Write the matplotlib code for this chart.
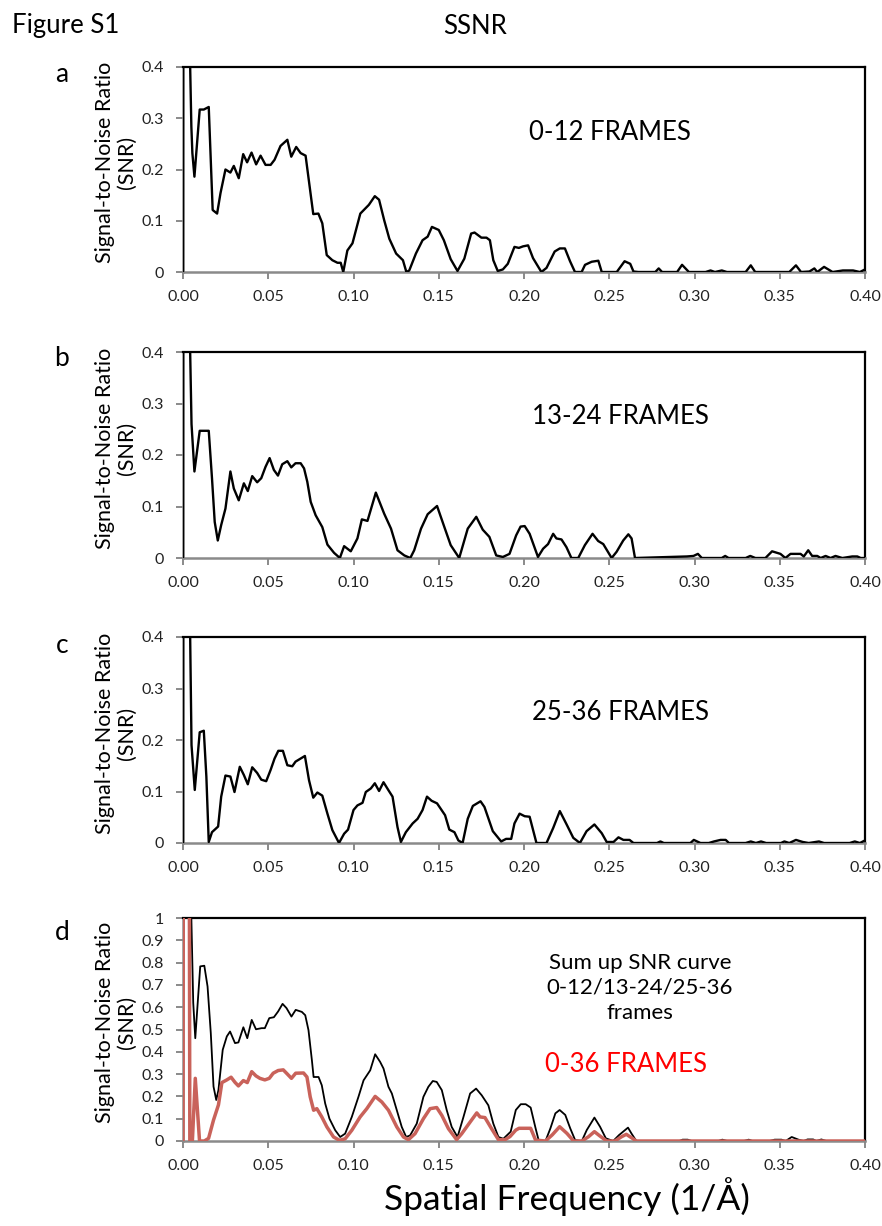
import matplotlib
matplotlib.use("Agg")
import matplotlib.pyplot as plt
import numpy as np

plt.rcParams['font.family'] = ['Lato', 'DejaVu Sans']

# ---------------- data ----------------
freq_a = [0.0000, 0.0004, 0.0036, 0.0042, 0.0049, 0.0055, 0.0067, 0.0098, 0.0122, 0.0151, 0.0174, 0.0200,
          0.0220, 0.0249, 0.0278, 0.0298, 0.0327, 0.0353, 0.0376, 0.0402, 0.0429, 0.0455, 0.0484, 0.0514,
          0.0537, 0.0572, 0.0612, 0.0635, 0.0664, 0.0690, 0.0719, 0.0764, 0.0794, 0.0817, 0.0843, 0.0876,
          0.0906, 0.0925, 0.0940, 0.0964, 0.0994, 0.1040, 0.1090, 0.1125, 0.1150, 0.1180, 0.1210, 0.1250,
          0.1290, 0.1310, 0.1327, 0.1366, 0.1405, 0.1435, 0.1460, 0.1500, 0.1530, 0.1570, 0.1610, 0.1650,
          0.1690, 0.1710, 0.1750, 0.1780, 0.1800, 0.1820, 0.1846, 0.1876, 0.1905, 0.1944, 0.1970, 0.1994,
          0.2024, 0.2053, 0.2102, 0.2132, 0.2180, 0.2210, 0.2240, 0.2270, 0.2299, 0.2338, 0.2358, 0.2397,
          0.2436, 0.2456, 0.2544, 0.2590, 0.2623, 0.2642, 0.2670, 0.2770, 0.2790, 0.2810, 0.2898, 0.2927,
          0.2967, 0.3065, 0.3094, 0.3120, 0.3160, 0.3190, 0.3300, 0.3330, 0.3356, 0.3556, 0.3595, 0.3625,
          0.3674, 0.3703, 0.3720, 0.3760, 0.3810, 0.3870, 0.3930, 0.3970, 0.4000]
snr_a = [0.0, 2.5, 2.5, 0.40, 0.284, 0.232, 0.186, 0.317, 0.317, 0.322, 0.121, 0.114,
         0.154, 0.200, 0.194, 0.207, 0.183, 0.230, 0.214, 0.233, 0.210, 0.227, 0.209, 0.209,
         0.219, 0.246, 0.258, 0.225, 0.244, 0.232, 0.227, 0.113, 0.114, 0.095, 0.033, 0.023,
         0.018, 0.018, 0.000, 0.042, 0.056, 0.114, 0.131, 0.148, 0.141, 0.101, 0.065, 0.036,
         0.023, 0.000, 0.003, 0.036, 0.062, 0.069, 0.088, 0.082, 0.062, 0.025, 0.002, 0.026,
         0.075, 0.077, 0.067, 0.067, 0.062, 0.023, 0.002, 0.005, 0.016, 0.049, 0.047, 0.050,
         0.052, 0.027, 0.000, 0.008, 0.040, 0.046, 0.046, 0.021, 0.000, 0.000, 0.014, 0.020,
         0.022, 0.000, 0.000, 0.021, 0.016, 0.001, 0.000, 0.000, 0.007, 0.000, 0.000, 0.014,
         0.000, 0.000, 0.003, 0.000, 0.003, 0.000, 0.000, 0.013, 0.000, 0.000, 0.013, 0.000,
         0.001, 0.007, 0.000, 0.010, 0.000, 0.003, 0.003, 0.000, 0.005]

freq_b = [0.0000, 0.0004, 0.0036, 0.0042, 0.0050, 0.0067, 0.0098, 0.0151, 0.0170, 0.0186, 0.0204, 0.0224,
          0.0249, 0.0278, 0.0298, 0.0327, 0.0357, 0.0380, 0.0406, 0.0435, 0.0459, 0.0484, 0.0508, 0.0533,
          0.0557, 0.0582, 0.0612, 0.0635, 0.0660, 0.0690, 0.0710, 0.0729, 0.0749, 0.0778, 0.0817, 0.0847,
          0.0886, 0.0920, 0.0945, 0.0984, 0.1023, 0.1049, 0.1082, 0.1131, 0.1180, 0.1220, 0.1258, 0.1298,
          0.1333, 0.1356, 0.1396, 0.1435, 0.1490, 0.1533, 0.1570, 0.1620, 0.1670, 0.1720, 0.1758, 0.1797,
          0.1837, 0.1876, 0.1915, 0.1954, 0.1980, 0.2004, 0.2033, 0.2082, 0.2112, 0.2141, 0.2171, 0.2190,
          0.2220, 0.2249, 0.2278, 0.2318, 0.2357, 0.2402, 0.2435, 0.2465, 0.2514, 0.2543, 0.2582, 0.2612,
          0.2631, 0.2651, 0.2955, 0.2994, 0.3020, 0.3043, 0.3160, 0.3180, 0.3200, 0.3300, 0.3327, 0.3357,
          0.3416, 0.3455, 0.3504, 0.3533, 0.3563, 0.3622, 0.3641, 0.3667, 0.3690, 0.3720, 0.3740, 0.3769,
          0.3798, 0.3827, 0.3867, 0.3925, 0.3955, 0.3975, 0.4000]
snr_b = [0.0, 2.5, 2.5, 0.40, 0.26, 0.168, 0.247, 0.247, 0.155, 0.070, 0.034, 0.064,
         0.096, 0.168, 0.135, 0.112, 0.145, 0.130, 0.159, 0.147, 0.155, 0.177, 0.194, 0.171,
         0.160, 0.182, 0.188, 0.176, 0.184, 0.184, 0.174, 0.148, 0.109, 0.083, 0.060, 0.026,
         0.010, 0.000, 0.023, 0.013, 0.038, 0.075, 0.072, 0.127, 0.086, 0.057, 0.015, 0.005,
         0.000, 0.015, 0.057, 0.085, 0.101, 0.060, 0.025, 0.000, 0.057, 0.080, 0.055, 0.041,
         0.005, 0.002, 0.008, 0.044, 0.061, 0.062, 0.047, 0.002, 0.018, 0.027, 0.047, 0.038,
         0.036, 0.021, 0.000, 0.000, 0.025, 0.047, 0.033, 0.027, 0.000, 0.012, 0.034, 0.046,
         0.038, 0.000, 0.003, 0.004, 0.008, 0.000, 0.000, 0.004, 0.000, 0.000, 0.004, 0.000,
         0.000, 0.013, 0.008, 0.000, 0.008, 0.008, 0.003, 0.015, 0.004, 0.004, 0.000, 0.004,
         0.000, 0.004, 0.000, 0.003, 0.003, 0.000, 0.000]

freq_c = [0.0000, 0.0004, 0.0036, 0.0042, 0.0050, 0.0069, 0.0098, 0.0122, 0.0137, 0.0151, 0.0170, 0.0206,
          0.0224, 0.0249, 0.0278, 0.0302, 0.0333, 0.0357, 0.0380, 0.0406, 0.0435, 0.0459, 0.0488, 0.0514,
          0.0537, 0.0559, 0.0586, 0.0612, 0.0641, 0.0660, 0.0690, 0.0715, 0.0739, 0.0764, 0.0788, 0.0817,
          0.0847, 0.0876, 0.0915, 0.0945, 0.0968, 0.1000, 0.1023, 0.1053, 0.1072, 0.1102, 0.1125, 0.1150,
          0.1176, 0.1204, 0.1229, 0.1258, 0.1278, 0.1307, 0.1347, 0.1376, 0.1405, 0.1431, 0.1458, 0.1490,
          0.1537, 0.1562, 0.1592, 0.1615, 0.1640, 0.1670, 0.1700, 0.1745, 0.1768, 0.1817, 0.1866, 0.1895,
          0.1925, 0.1944, 0.1974, 0.2004, 0.2033, 0.2073, 0.2132, 0.2171, 0.2210, 0.2250, 0.2289, 0.2328,
          0.2367, 0.2413, 0.2456, 0.2485, 0.2525, 0.2554, 0.2583, 0.2619, 0.2642, 0.2780, 0.2800, 0.2820,
          0.2976, 0.2996, 0.3035, 0.3084, 0.3114, 0.3153, 0.3183, 0.3202, 0.3300, 0.3330, 0.3360, 0.3390,
          0.3420, 0.3507, 0.3527, 0.3556, 0.3595, 0.3635, 0.3670, 0.3730, 0.3760, 0.3910, 0.3940, 0.3970,
          0.4000]
snr_c = [0.0, 2.5, 2.5, 0.40, 0.19, 0.103, 0.215, 0.218, 0.129, 0.002, 0.021, 0.032,
         0.090, 0.131, 0.129, 0.099, 0.148, 0.132, 0.114, 0.147, 0.136, 0.123, 0.120, 0.142,
         0.164, 0.179, 0.179, 0.151, 0.149, 0.158, 0.164, 0.169, 0.122, 0.088, 0.098, 0.092,
         0.057, 0.025, 0.000, 0.018, 0.026, 0.064, 0.073, 0.078, 0.099, 0.106, 0.116, 0.101,
         0.118, 0.103, 0.090, 0.031, 0.002, 0.021, 0.038, 0.047, 0.064, 0.090, 0.082, 0.077,
         0.054, 0.026, 0.021, 0.005, 0.000, 0.047, 0.072, 0.081, 0.070, 0.023, 0.003, 0.008,
         0.008, 0.038, 0.057, 0.052, 0.051, 0.000, 0.000, 0.029, 0.062, 0.036, 0.010, 0.000,
         0.023, 0.036, 0.019, 0.002, 0.002, 0.011, 0.006, 0.006, 0.000, 0.000, 0.003, 0.000,
         0.000, 0.006, 0.000, 0.000, 0.003, 0.006, 0.006, 0.000, 0.000, 0.003, 0.000, 0.003,
         0.000, 0.000, 0.003, 0.000, 0.006, 0.002, 0.000, 0.003, 0.000, 0.000, 0.003, 0.000,
         0.005]

freq_d_sum = [0.0000, 0.0004, 0.0045, 0.0049, 0.0060, 0.0072, 0.0101, 0.0125, 0.0144, 0.0163, 0.0179, 0.0195,
              0.0208, 0.0233, 0.0257, 0.0276, 0.0305, 0.0325, 0.0354, 0.0377, 0.0403, 0.0428, 0.0461, 0.0480,
              0.0506, 0.0533, 0.0558, 0.0584, 0.0607, 0.0636, 0.0661, 0.0697, 0.0717, 0.0736, 0.0756, 0.0766,
              0.0795, 0.0814, 0.0834, 0.0859, 0.0893, 0.0922, 0.0951, 0.0990, 0.1029, 0.1059, 0.1098, 0.1127,
              0.1156, 0.1176, 0.1205, 0.1225, 0.1254, 0.1283, 0.1309, 0.1332, 0.1371, 0.1410, 0.1439, 0.1465,
              0.1488, 0.1518, 0.1547, 0.1576, 0.1610, 0.1645, 0.1684, 0.1719, 0.1752, 0.1791, 0.1820, 0.1850,
              0.1879, 0.1922, 0.1952, 0.1981, 0.2010, 0.2039, 0.2068, 0.2087, 0.2126, 0.2155, 0.2184, 0.2209,
              0.2242, 0.2271, 0.2300, 0.2339, 0.2368, 0.2413, 0.2446, 0.2480, 0.2523, 0.2558, 0.2610, 0.2630,
              0.2659, 0.2911, 0.2930, 0.2960, 0.2984, 0.3140, 0.3163, 0.3192, 0.3290, 0.3318, 0.3340, 0.3440,
              0.3470, 0.3510, 0.3535, 0.3570, 0.3610, 0.3640, 0.3663, 0.3696, 0.3715, 0.3744, 0.3773, 0.4000]
snr_d_sum = [0.0, 3.0, 3.0, 1.0, 0.62, 0.461, 0.783, 0.786, 0.693, 0.484, 0.244, 0.184,
             0.229, 0.409, 0.469, 0.491, 0.439, 0.442, 0.510, 0.461, 0.543, 0.501, 0.506, 0.506,
             0.551, 0.555, 0.581, 0.615, 0.596, 0.558, 0.588, 0.579, 0.564, 0.497, 0.362, 0.287,
             0.287, 0.250, 0.168, 0.100, 0.048, 0.018, 0.033, 0.108, 0.198, 0.272, 0.317, 0.389,
             0.355, 0.325, 0.243, 0.213, 0.138, 0.063, 0.018, 0.025, 0.078, 0.198, 0.243, 0.269,
             0.265, 0.228, 0.138, 0.063, 0.018, 0.108, 0.213, 0.235, 0.205, 0.160, 0.078, 0.018,
             0.010, 0.042, 0.139, 0.165, 0.165, 0.150, 0.057, 0.000, 0.000, 0.057, 0.124, 0.139,
             0.117, 0.057, 0.004, 0.000, 0.049, 0.105, 0.064, 0.012, 0.000, 0.027, 0.060, 0.034,
             0.000, 0.000, 0.006, 0.006, 0.000, 0.000, 0.006, 0.000, 0.000, 0.006, 0.000, 0.000,
             0.006, 0.006, 0.000, 0.018, 0.006, 0.000, 0.007, 0.007, 0.000, 0.007, 0.000, 0.000]

freq_d_all = [0.0000, 0.0004, 0.0033, 0.0040, 0.0055, 0.0072, 0.0097, 0.0125, 0.0150, 0.0179, 0.0208, 0.0228,
              0.0257, 0.0282, 0.0305, 0.0325, 0.0354, 0.0377, 0.0403, 0.0428, 0.0451, 0.0480, 0.0506, 0.0529,
              0.0558, 0.0588, 0.0611, 0.0636, 0.0661, 0.0707, 0.0727, 0.0746, 0.0766, 0.0785, 0.0814, 0.0844,
              0.0883, 0.0918, 0.0951, 0.0990, 0.1039, 0.1078, 0.1127, 0.1166, 0.1205, 0.1254, 0.1293, 0.1322,
              0.1361, 0.1410, 0.1449, 0.1488, 0.1518, 0.1557, 0.1605, 0.1635, 0.1684, 0.1723, 0.1742, 0.1771,
              0.1810, 0.1850, 0.1889, 0.1918, 0.1952, 0.1971, 0.2039, 0.2068, 0.2126, 0.2165, 0.2209, 0.2252,
              0.2291, 0.2339, 0.2378, 0.2413, 0.2446, 0.2485, 0.2533, 0.2572, 0.2600, 0.2630, 0.2659, 0.4000]
snr_d_all = [0.0, 3.0, 3.0, 0.0, 0.0, 0.281, 0.0, 0.0, 0.012, 0.094, 0.162, 0.262,
             0.274, 0.286, 0.263, 0.247, 0.271, 0.262, 0.311, 0.292, 0.281, 0.274, 0.281, 0.304,
             0.316, 0.319, 0.301, 0.281, 0.304, 0.305, 0.287, 0.198, 0.138, 0.145, 0.108, 0.063,
             0.018, 0.003, 0.010, 0.048, 0.108, 0.145, 0.200, 0.175, 0.138, 0.063, 0.018, 0.006,
             0.033, 0.100, 0.145, 0.150, 0.115, 0.055, 0.006, 0.033, 0.085, 0.126, 0.108, 0.105,
             0.055, 0.006, 0.006, 0.020, 0.049, 0.057, 0.057, 0.004, 0.000, 0.027, 0.064, 0.034,
             0.000, 0.000, 0.019, 0.042, 0.022, 0.000, 0.000, 0.019, 0.030, 0.015, 0.000, 0.000]

x_ticks = [0.00, 0.05, 0.10, 0.15, 0.20, 0.25, 0.30, 0.35, 0.40]
x_tick_labels = ["0.00", "0.05", "0.10", "0.15", "0.20", "0.25", "0.30", "0.35", "0.40"]
y_ticks_small = [0.0, 0.1, 0.2, 0.3, 0.4]
y_labels_small = ["0", "0.1", "0.2", "0.3", "0.4"]
y_ticks_big = [0.0, 0.1, 0.2, 0.3, 0.4, 0.5, 0.6, 0.7, 0.8, 0.9, 1.0]
y_labels_big = ["0", "0.1", "0.2", "0.3", "0.4", "0.5", "0.6", "0.7", "0.8", "0.9", "1"]
panel_letters = ["a", "b", "c", "d"]
frame_texts = ["0-12 FRAMES", "13-24 FRAMES", "25-36 FRAMES"]

# ---------------- layout ----------------
W, H = 882, 1226
fig = plt.figure(figsize=(W / 100, H / 100), dpi=100)

def fx(x):
    return x / W

def fy(y):
    return 1 - y / H

AX_L, AX_R = 183, 865
panels_px = [(67, 272), (352, 558), (637, 843), (918, 1141)]
AXIS_GRAY = "#8a8a8a"
RED_LINE = "#C9625A"

def style_axes(ax, yt, yl, ymax):
    ax.set_xlim(0, 0.4)
    ax.set_ylim(0, ymax)
    ax.set_xticks(x_ticks)
    ax.set_xticklabels(x_tick_labels)
    ax.set_yticks(yt)
    ax.set_yticklabels(yl)
    for s in ["top", "right"]:
        ax.spines[s].set_color("black")
        ax.spines[s].set_linewidth(1.6)
    for s in ["left", "bottom"]:
        ax.spines[s].set_color(AXIS_GRAY)
        ax.spines[s].set_linewidth(1.8)
    ax.tick_params(axis="both", direction="out", color=AXIS_GRAY, width=1.4,
                   length=5, labelsize=11.5, labelcolor="#222222")
    ax.tick_params(axis="x", pad=8)
    ax.tick_params(axis="y", pad=9)

axes = []
for (top, bot) in panels_px:
    ax = fig.add_axes([fx(AX_L), fy(bot), fx(AX_R - AX_L), (bot - top) / H])
    axes.append(ax)

series = [(freq_a, snr_a), (freq_b, snr_b), (freq_c, snr_c)]
for ax, (f, v) in zip(axes[:3], series):
    ax.plot(f, v, color="black", lw=1.7, solid_joinstyle="round", zorder=3)
    style_axes(ax, y_ticks_small, y_labels_small, 0.4)

axd = axes[3]
axd.plot(freq_d_sum, snr_d_sum, color="black", lw=1.3, solid_joinstyle="round", zorder=3)
axd.plot(freq_d_all, snr_d_all, color=RED_LINE, lw=2.5, solid_joinstyle="round", zorder=4)
style_axes(axd, y_ticks_big, y_labels_big, 1.0)

# ---------------- texts ----------------
fig.text(fx(12), fy(26), "Figure S1", fontsize=18.5, ha="left", va="center")
fig.text(fx(475), fy(26), "SSNR", fontsize=18.5, ha="center", va="center")

letter_y = [75, 358, 645, 933]
for lt, ly in zip(panel_letters, letter_y):
    fig.text(fx(62), fy(ly), lt, fontsize=19, ha="center", va="center")

for (top, bot) in panels_px:
    cy = (top + bot) / 2 - 7
    fig.text(fx(116), fy(cy), "Signal-to-Noise Ratio\n(SNR)", fontsize=15.5,
             rotation=90, ha="center", va="center", multialignment="center",
             linespacing=1.1)

frame_pos = [(529, 133), (532, 417), (532, 713)]
for t, (x, y) in zip(frame_texts, frame_pos):
    fig.text(fx(x), fy(y), t, fontsize=18.5, ha="left", va="center")

fig.text(fx(640), fy(988), "Sum up SNR curve\n0-12/13-24/25-36\nframes", fontsize=16,
         ha="center", va="center", multialignment="center", linespacing=1.33)
fig.text(fx(545), fy(1065), "0-36 FRAMES", fontsize=18.5, color="#FF0000",
         ha="left", va="center")

fig.text(fx(567), fy(1197), "Spatial Frequency (1/Å)", fontsize=25.5, ha="center", va="center")

fig.savefig("out.png", dpi=100, facecolor="white")
